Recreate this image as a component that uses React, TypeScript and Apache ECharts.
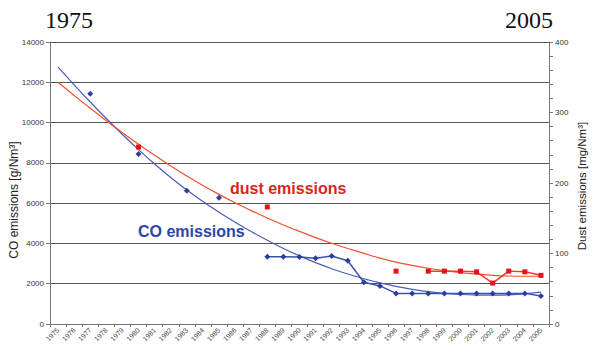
import React, { useEffect, useRef } from "react";
import * as echarts from "echarts";

const years: string[] = [];
for (let y = 1975; y <= 2005; y++) years.push(String(y));

// CO measured values [g/Nm3] (null = no measurement)
const coData: (number | null)[] = [
  null, null, 11430, null, null, 8440, null, null, 6620, null,
  6270, null, null, 3340, 3340, 3330, 3260, 3380, 3140, 2070,
  1890, 1520, 1520, 1520, 1520, 1520, 1520, 1520, 1520, 1520, 1390,
];

// Dust measured values [mg/Nm3]
const dustData: (number | null)[] = [
  null, null, null, null, null, 251, null, null, null, null,
  null, null, null, 166, null, null, null, null, null, null,
  null, 75, null, 75, 75, 75, 74, 58, 75, 74, 69,
];

// CO trend line [g/Nm3]
const coTrend: number[] = [
  12750, 11870, 11020, 10200, 9410, 8655, 7940, 7270, 6650, 6080,
  5550, 5055, 4590, 4155, 3750, 3380, 3045, 2745, 2480, 2245,
  2040, 1865, 1720, 1605, 1520, 1465, 1435, 1430, 1450, 1500, 1580,
];

// Dust trend line [mg/Nm3]
const dustTrend: number[] = [
  343, 324.2, 306, 288.4, 271.4, 255, 239.2, 224.2, 210, 196.6,
  183.9, 171.9, 160.8, 150.3, 140.5, 131.3, 122.6, 114.5, 107.1, 100.2,
  93.4, 87.7, 83.1, 79.1, 75.7, 72.9, 70.7, 69.1, 68.1, 67.7, 67.7,
];

export default function App() {
  const ref = useRef<HTMLDivElement>(null);
  useEffect(() => {
    if (!ref.current) return;
    const chart = echarts.init(ref.current, null, { renderer: "svg" });
    const labelColor = "#333";
    chart.setOption({
      animation: false,
      backgroundColor: "#fff",
      grid: { left: 50, right: 44, top: 42, bottom: 32 },
      xAxis: {
        type: "category",
        data: years,
        boundaryGap: true,
        axisLine: { lineStyle: { color: "#777", width: 1 } },
        axisTick: { show: true, length: 3, lineStyle: { color: "#777" } },
        axisLabel: {
          rotate: 45,
          fontSize: 7,
          color: "#444",
          fontFamily: "Liberation Sans",
          interval: 0,
          margin: 5,
        },
      },
      yAxis: [
        {
          type: "value",
          min: 0,
          max: 14000,
          interval: 2000,
          axisLine: { show: true, lineStyle: { color: "#777" } },
          axisTick: { show: true, length: 4, lineStyle: { color: "#777" } },
          axisLabel: {
            fontSize: 8,
            color: labelColor,
            fontFamily: "Liberation Sans",
            margin: 6,
            formatter: (v: number) => String(v),
          },
          splitLine: { show: true, lineStyle: { color: "#555", width: 1 } },
        },
        {
          type: "value",
          min: 0,
          max: 400,
          interval: 20,
          position: "right",
          axisLine: { show: true, lineStyle: { color: "#777" } },
          axisTick: { show: true, length: 4, lineStyle: { color: "#777" } },
          axisLabel: {
            fontSize: 8,
            color: labelColor,
            fontFamily: "Liberation Sans",
            margin: 6,
            formatter: (v: number) => (v % 100 === 0 ? String(v) : ""),
          },
          splitLine: { show: false },
        },
      ],
      series: [
        {
          name: "CO trend",
          type: "line",
          yAxisIndex: 0,
          data: coTrend,
          smooth: 0.3,
          showSymbol: false,
          symbol: "none",
          lineStyle: { color: "#4a5cb8", width: 1.2 },
          z: 2,
        },
        {
          name: "Dust trend",
          type: "line",
          yAxisIndex: 1,
          data: dustTrend,
          smooth: 0.3,
          showSymbol: false,
          symbol: "none",
          lineStyle: { color: "#f2502e", width: 1.2 },
          z: 2,
        },
        {
          name: "CO emissions",
          type: "line",
          yAxisIndex: 0,
          data: coData,
          connectNulls: false,
          symbol: "diamond",
          symbolSize: 6,
          itemStyle: { color: "#2b3f9c" },
          lineStyle: { color: "#3a52ad", width: 1.5 },
          z: 3,
        },
        {
          name: "dust emissions",
          type: "line",
          yAxisIndex: 1,
          data: dustData,
          connectNulls: false,
          symbol: "rect",
          symbolSize: 5,
          itemStyle: { color: "#e8101a" },
          lineStyle: { color: "#f03a2a", width: 1.5 },
          z: 3,
        },
      ],
      graphic: [
        {
          type: "text",
          left: 45,
          top: 8,
          style: { text: "1975", fontSize: 24, fontFamily: "Liberation Serif", fill: "#111" },
        },
        {
          type: "text",
          left: 505,
          top: 8,
          style: { text: "2005", fontSize: 24, fontFamily: "Liberation Serif", fill: "#111" },
        },
        {
          type: "text",
          x: 230,
          y: 188,
          style: {
            text: "dust emissions",
            fontSize: 16,
            fontWeight: "bold",
            fontFamily: "Liberation Sans",
            fill: "#d9261c",
            textVerticalAlign: "middle",
          },
        },
        {
          type: "text",
          x: 138,
          y: 231,
          style: {
            text: "CO emissions",
            fontSize: 16,
            fontWeight: "bold",
            fontFamily: "Liberation Sans",
            fill: "#2e46a6",
            textVerticalAlign: "middle",
          },
        },
        {
          type: "text",
          x: 14,
          y: 200,
          rotation: Math.PI / 2,
          style: {
            text: "CO emissions [g/Nm³]",
            fontSize: 12,
            fontFamily: "Liberation Sans",
            fill: "#222",
            textAlign: "center",
            textVerticalAlign: "middle",
          },
        },
        {
          type: "text",
          x: 582,
          y: 186,
          rotation: Math.PI / 2,
          style: {
            text: "Dust emissions [mg/Nm³]",
            fontSize: 11.5,
            fontFamily: "Liberation Sans",
            fill: "#222",
            textAlign: "center",
            textVerticalAlign: "middle",
          },
        },
      ],
    });
    return () => chart.dispose();
  }, []);
  return (
    <div
      ref={ref}
      style={{ position: "fixed", left: 0, top: 0, width: 593, height: 356 }}
    />
  );
}
